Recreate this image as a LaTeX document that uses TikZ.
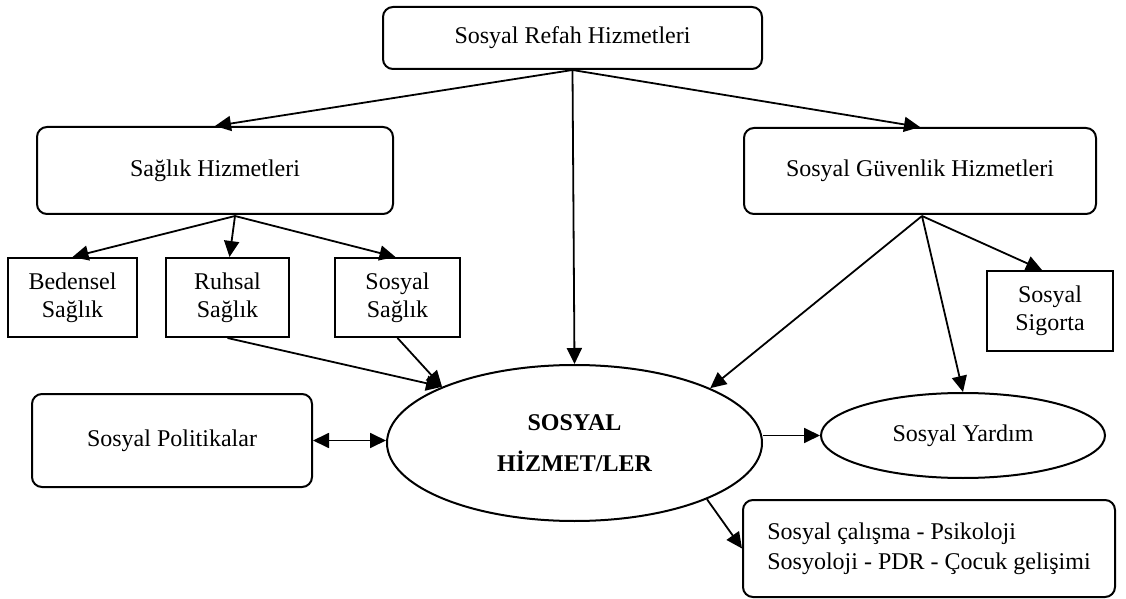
\documentclass[tikz,border=0pt]{standalone}
\usepackage{fontspec}
\setmainfont{Liberation Serif}
\usetikzlibrary{shapes.geometric,arrows.meta,positioning}

\begin{document}
\begin{tikzpicture}[
    x=0.5pt, y=-0.5pt,
    >={Triangle[length=8pt,width=7.5pt]},
    hizmetbox/.style={rectangle, draw=black, line width=1pt, rounded corners=5pt, align=center, inner sep=0pt, font=\fontsize{12}{14}\selectfont},
    kutu/.style={rectangle, draw=black, line width=1pt, align=center, inner sep=0pt, font=\fontsize{12}{14}\selectfont},
    oval/.style={ellipse, draw=black, line width=1pt, align=center, inner sep=0pt},
    line/.style={line width=0.9pt, draw=black}
]
\useasboundingbox (0,0) rectangle (1126,599);

% Top Row
\node[hizmetbox, minimum width=189.5pt, minimum height=31pt] (refah) at (572.5,38) {Sosyal Refah Hizmetleri};

% Second Row
\node[hizmetbox, minimum width=178pt, minimum height=43.5pt] (saglik) at (215,170.5) {Sağlık Hizmetleri};
\node[hizmetbox, minimum width=176pt, minimum height=43pt] (guvenlik) at (920,171) {Sosyal Güvenlik Hizmetleri};

% Health boxes
\node[kutu, minimum width=64.5pt, minimum height=39.5pt] (bedensel) at (72.5,297.5) {Bedensel\\Sağlık};
\node[kutu, minimum width=61.5pt, minimum height=39.5pt] (ruhsal) at (227.5,297.5) {Ruhsal\\Sağlık};
\node[kutu, minimum width=62.5pt, minimum height=39.5pt] (sosyalsaglik) at (397.5,297.5) {Sosyal\\Sağlık};
\node[kutu, minimum width=63pt, minimum height=40pt] (sigorta) at (1050,311) {Sosyal\\Sigorta};

% Middle Row
\node[oval, minimum width=187.5pt, minimum height=78pt, font=\fontsize{12}{20.5}\selectfont\bfseries] (hizmet) at (574.5,443) {SOSYAL\\HİZMET/LER};
\node[oval, minimum width=142pt, minimum height=42.5pt, font=\fontsize{12}{14}\selectfont] (yardim) at (963,435.5) {Sosyal Yardım};
\node[hizmetbox, minimum width=140pt, minimum height=46.5pt] (politika) at (172,440.5) {Sosyal Politikalar};

% Bottom
\node[hizmetbox, minimum width=186pt, minimum height=48.5pt, align=left, font=\fontsize{12}{15}\selectfont] (meslek) at (929,548.5) {Sosyal çalışma - Psikoloji\\Sosyoloji - PDR - Çocuk gelişimi};

% Branch points
\coordinate (saglikdal) at (235,216);
\coordinate (guvenlikdal) at (922,216);

% Connections
\draw[line, ->] (refah.south) -- (saglik.north);
\draw[line, ->] (refah.south) -- (guvenlik.north);
\draw[line, ->] (refah.south) -- (hizmet.north);
\draw[line, ->] (saglikdal) -- (bedensel.north);
\draw[line, ->] (saglikdal) -- ([xshift=1pt]ruhsal.north);
\draw[line, ->] (saglikdal) -- ([xshift=-1pt]sosyalsaglik.north);
\draw[line, ->] (ruhsal.south) -- (hizmet.157);
\draw[line, ->] (sosyalsaglik.south) -- (hizmet.157);
\draw[line, ->] (guvenlikdal) -- (hizmet.22);
\draw[line, ->] (guvenlikdal) -- (yardim.north);
\draw[line, ->] (guvenlikdal) -- ([xshift=-4pt]sigorta.north);
\draw[line, <->] (politika.east) -- (politika.east -| hizmet.west);
\draw[line, ->] (hizmet.east |- yardim.west) -- (yardim.west);
\draw[line, ->] (hizmet.-23) -- (meslek.west);

\end{tikzpicture}
\end{document}
